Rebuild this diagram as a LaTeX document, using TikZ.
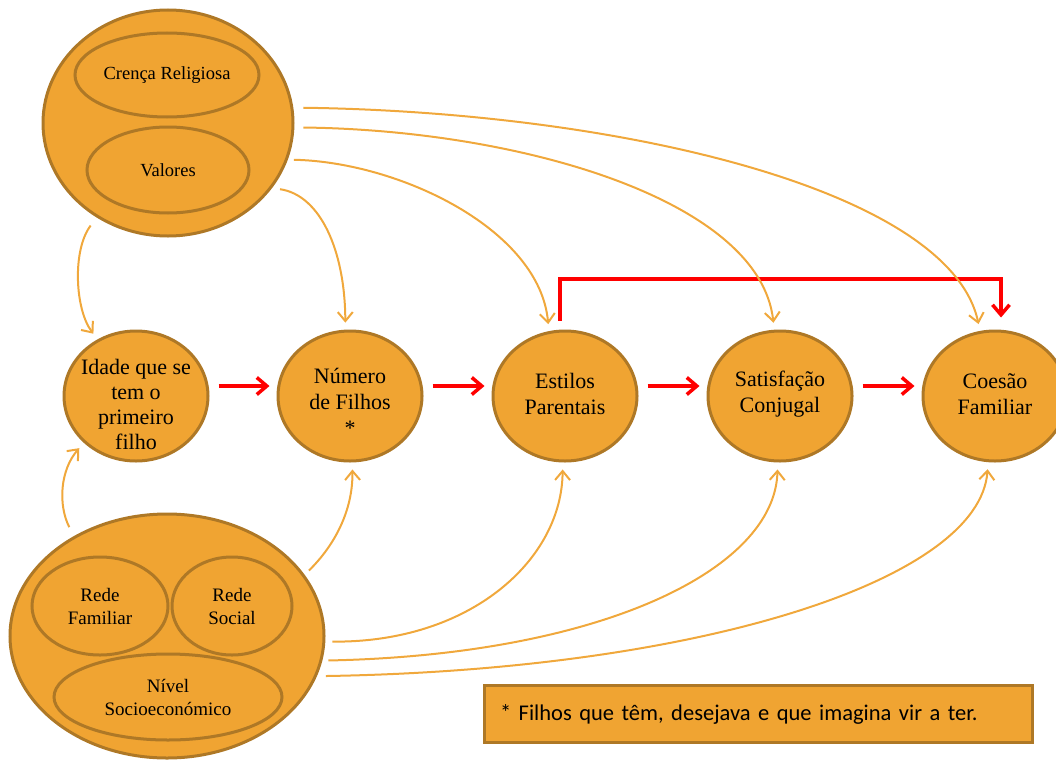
\documentclass[tikz,border=0pt]{standalone}
\usepackage{fontspec}
\setmainfont{Liberation Serif}
\newfontfamily\boxfont{Carlito}
\usetikzlibrary{arrows.meta,shapes.geometric}
\definecolor{orfill}{RGB}{240,164,50}
\definecolor{orline}{RGB}{174,120,38}
\definecolor{orarrow}{RGB}{240,168,60}
\tikzset{
  bubble/.style={ellipse, draw=orline, fill=orfill, line width=3pt, inner sep=0pt, minimum width=144pt, minimum height=130pt},
  bigell/.style={ellipse, draw=orline, fill=orfill, line width=3pt, inner sep=0pt},
  bubtext/.style={inner sep=0pt, align=center, font=\fontsize{22}{26}\selectfont},
  innerell/.style={ellipse, draw=orline, fill=orfill, line width=3pt, inner sep=0pt, align=center, font=\fontsize{18.5}{23}\selectfont},
  orarr/.style={draw=orarrow, line width=2pt, -{Straight Barb[length=9pt,width=15pt]}, shorten >=7pt},
  redarr/.style={draw=red, line width=3.5pt, -{Straight Barb[length=10pt,width=17pt]}},
  notebox/.style={draw=orline, fill=orfill, line width=3pt, text width=516pt, inner xsep=16pt, minimum height=57pt, align=left, font=\boxfont\fontsize{22.5}{26}\selectfont}
}
\begin{document}
\begin{tikzpicture}[x=1pt,y=-1pt]
\useasboundingbox (0,0) rectangle (1056,760);
% top group
\node[bigell, minimum width=250pt, minimum height=226pt] (topE) at (168,123) {};
\node[innerell, minimum width=184pt, minimum height=84pt] (crenca) at (167,75) {Crença Religiosa};
\node[innerell, minimum width=162pt, minimum height=86pt] (valores) at (168,170) {Valores};
% bottom group
\node[bigell, minimum width=314pt, minimum height=244pt] (botE) at (167,636) {};
\node[innerell, minimum width=136pt, minimum height=98pt, font=\fontsize{19}{23}\selectfont] (redefam) at (100,606) {Rede\\Familiar};
\node[innerell, minimum width=120pt, minimum height=98pt, font=\fontsize{19}{23}\selectfont] (redesoc) at (232,606) {Rede\\Social};
\node[innerell, minimum width=228pt, minimum height=86pt, font=\fontsize{19}{23}\selectfont] (nivel) at (168,697) {Nível\\Socioeconómico};
% middle row
\node[bubble] (idade) at (136,396) {};
\node[bubble] (numero) at (350,396) {};
\node[bubble] (estilos) at (565,396) {};
\node[bubble] (satisf) at (780,396) {};
\node[bubble] (coesao) at (995,396) {};
\node[bubtext, font=\fontsize{22}{25}\selectfont] (idadeT) at ([yshift=-8pt]idade.center) {Idade que se\\tem o\\primeiro\\filho};
\node[bubtext] (numeroT) at ([yshift=-6pt]numero.center) {Número\\de Filhos\\*};
\node[bubtext] (estilosT) at ([yshift=2pt]estilos.center) {Estilos\\Parentais};
\node[bubtext] (satisfT) at ([yshift=2pt]satisf.center) {Satisfação\\Conjugal};
\node[bubtext] (coesaoT) at ([yshift=2pt]coesao.center) {Coesão\\Familiar};
% note
\node[notebox] (nota) at (758,714) {* Filhos que têm, desejava e que imagina vir a ter.};
% red arrows
\draw[redarr, shorten <=9pt, shorten >=7pt] ([yshift=10pt]idade.east) -- ([yshift=10pt]numero.west);
\draw[redarr, shorten <=9pt, shorten >=7pt] ([yshift=10pt]numero.east) -- ([yshift=10pt]estilos.west);
\draw[redarr, shorten <=9pt, shorten >=7pt] ([yshift=10pt]estilos.east) -- ([yshift=10pt]satisf.west);
\draw[redarr, shorten <=9pt, shorten >=7pt] ([yshift=10pt]satisf.east) -- ([yshift=10pt]coesao.west);
\coordinate (elbowL) at (560,279);
\coordinate (elbowR) at (1001,279);
\draw[redarr, shorten <=9pt, shorten >=12pt] (elbowL |- estilos.north) -- (elbowL) -- (elbowR) -- (elbowR |- coesao.north);
% orange arrows from top group
\draw[orarr, shorten <=10pt] (topE.7) .. controls (620,112) and (950,190) .. (coesao.103);
\draw[orarr, shorten <=9pt] (topE.-2) .. controls (520,130) and (760,200) .. (satisf.95);
\draw[orarr, shorten <=6pt] (topE.-17) .. controls (400,162) and (540,230) .. (estilos.104);
\draw[orarr, shorten <=8pt] (topE.-32) .. controls (320,195) and (345,250) .. (numero.94);
\draw[orarr, shorten <=10pt] (topE.-127) .. controls (72,250) and (75,310) .. (idade.124);
% orange arrows from bottom group
\draw[orarr, shorten <=10pt] (botE.133) .. controls (58,505) and (60,470) .. (idade.222);
\draw[orarr, shorten <=6pt] (botE.24) .. controls (335,545) and (353,510) .. (numero.272);
\draw[orarr, shorten <=7pt] (botE.-2) .. controls (470,643) and (562,560) .. (estilos.268);
\draw[orarr, shorten <=6pt] (botE.-9) .. controls (600,655) and (775,570) .. (satisf.268);
\draw[orarr, shorten <=9pt] (botE.-15) .. controls (700,670) and (980,580) .. (coesao.264);
\end{tikzpicture}
\end{document}
